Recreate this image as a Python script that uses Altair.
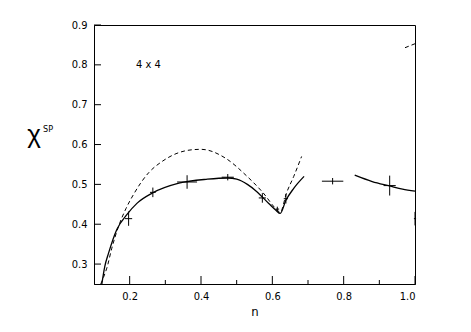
import altair as alt
import pandas as pd

# ---- data ----
solid1_n = [0.122, 0.130, 0.141, 0.164, 0.192, 0.221, 0.263, 0.338, 0.418, 0.475, 0.500, 0.530, 0.555, 0.590, 0.610, 0.622, 0.638, 0.660, 0.689]
solid1_chi = [0.25, 0.293, 0.328, 0.387, 0.424, 0.453, 0.478, 0.503, 0.513, 0.516, 0.513, 0.500, 0.483, 0.452, 0.435, 0.427, 0.460, 0.490, 0.520]

solid2_n = [0.831, 0.880, 0.929, 0.965, 1.000]
solid2_chi = [0.523, 0.507, 0.496, 0.488, 0.483]

dash1_n = [0.119, 0.128, 0.136, 0.150, 0.169, 0.190, 0.211, 0.254, 0.290, 0.330, 0.376, 0.400, 0.470, 0.527, 0.574, 0.612, 0.622, 0.640, 0.660, 0.682]
dash1_chi = [0.25, 0.270, 0.290, 0.340, 0.395, 0.440, 0.475, 0.530, 0.557, 0.577, 0.587, 0.588, 0.565, 0.522, 0.479, 0.437, 0.430, 0.479, 0.520, 0.570]

dash2_n = [0.972, 1.000]
dash2_chi = [0.843, 0.853]

pt_n = [0.197, 0.265, 0.361, 0.475, 0.572, 0.614, 0.638, 0.769, 0.929, 1.000]
pt_chi = [0.414, 0.480, 0.506, 0.518, 0.466, 0.438, 0.464, 0.508, 0.497, 0.414]
pt_dn = [0.010, 0.008, 0.028, 0.017, 0.010, 0.005, 0.006, 0.030, 0.017, 0.003]
pt_dchi = [0.018, 0.012, 0.017, 0.008, 0.012, 0.006, 0.012, 0.008, 0.025, 0.017]

x_labels = [0.2, 0.4, 0.6, 0.8, 1.0]
x_minor = [0.3, 0.5, 0.7, 0.9]
y_labels = [0.3, 0.4, 0.5, 0.6, 0.7, 0.8, 0.9]

W, H = 321, 259
FONT = "DejaVu Sans Condensed"

xs = alt.Scale(domain=[0.1, 1.0], nice=False, zero=False)
ys = alt.Scale(domain=[0.25, 0.9], nice=False, zero=False)

def seg(n, c, name):
    return pd.DataFrame({"n": n, "chi": c, "seg": name})

solid = pd.concat([seg(solid1_n, solid1_chi, "a"), seg(solid2_n, solid2_chi, "b")])
dashed = pd.concat([seg(dash1_n, dash1_chi, "a"), seg(dash2_n, dash2_chi, "b")])

pts = pd.DataFrame({"n": pt_n, "chi": pt_chi, "dn": pt_dn, "dc": pt_dchi})
pts["n_lo"] = pts["n"] - pts["dn"]
pts["n_hi"] = pts["n"] + pts["dn"]
pts["c_lo"] = pts["chi"] - pts["dc"]
pts["c_hi"] = pts["chi"] + pts["dc"]

xaxis = alt.Axis(values=x_labels, format=".1f", tickSize=0, labelPadding=6, grid=False,
                 domainColor="black", labelFont=FONT, labelFontSize=11, labelColor="black",
                 titleFont=FONT, titleFontSize=13, titleFontWeight="normal", titleColor="black",
                 titlePadding=4)
yaxis = alt.Axis(values=y_labels, format=".1f", tickSize=0, labelPadding=7, grid=False,
                 domainColor="black", labelFont=FONT, labelFontSize=11, labelColor="black",
                 title=None)

solid_l = alt.Chart(solid).mark_line(color="black", strokeWidth=1.3, interpolate="monotone").encode(
    x=alt.X("n:Q", scale=xs, axis=xaxis, title="n"),
    y=alt.Y("chi:Q", scale=ys, axis=yaxis),
    detail="seg:N",
)
dashed_l = alt.Chart(dashed).mark_line(color="black", strokeWidth=1.0, strokeDash=[4, 3], interpolate="monotone").encode(
    x=alt.X("n:Q", scale=xs), y=alt.Y("chi:Q", scale=ys), detail="seg:N"
)
eb_v = alt.Chart(pts).mark_rule(color="black", strokeWidth=1).encode(
    x=alt.X("n:Q", scale=xs), y=alt.Y("c_lo:Q", scale=ys), y2="c_hi:Q"
)
eb_h = alt.Chart(pts).mark_rule(color="black", strokeWidth=1).encode(
    x=alt.X("n_lo:Q", scale=xs), x2="n_hi:Q", y=alt.Y("chi:Q", scale=ys)
)

ytick = alt.Chart(pd.DataFrame({"v": y_labels})).mark_rule(color="black").encode(
    y=alt.Y("v:Q", scale=ys), x=alt.value(0), x2=alt.value(7)
)
xtick = alt.Chart(pd.DataFrame({"v": x_labels})).mark_rule(color="black").encode(
    x=alt.X("v:Q", scale=xs), y=alt.value(H), y2=alt.value(H - 8)
)
xminor = alt.Chart(pd.DataFrame({"v": x_minor})).mark_rule(color="black").encode(
    x=alt.X("v:Q", scale=xs), y=alt.value(H), y2=alt.value(H - 4)
)

one = pd.DataFrame({"k": [0]})
label44 = alt.Chart(one).mark_text(text="4  x  4", font=FONT, fontSize=11, align="left",
                                   baseline="middle", color="black").encode(
    x=alt.value(42), y=alt.value(40))
chi = alt.Chart(one).mark_text(text="χ", font="Liberation Sans", fontSize=26, align="center",
                               baseline="middle", color="black", fontWeight="normal").encode(
    x=alt.value(-60), y=alt.value(110))
sp = alt.Chart(one).mark_text(text="SP", font=FONT, fontSize=9, align="left",
                              baseline="middle", color="black").encode(
    x=alt.value(-51), y=alt.value(104))

chart = alt.layer(solid_l, dashed_l, eb_v, eb_h, ytick, xtick, xminor, label44, chi, sp).properties(
    width=W, height=H,
    autosize=alt.AutoSizeParams(type="none"),
    padding={"left": 86, "top": 17, "right": 40, "bottom": 40},
    background="white",
).configure_view(stroke="black", strokeWidth=1)

chart.save("out.html", embed_options={"renderer": "svg", "actions": False})
